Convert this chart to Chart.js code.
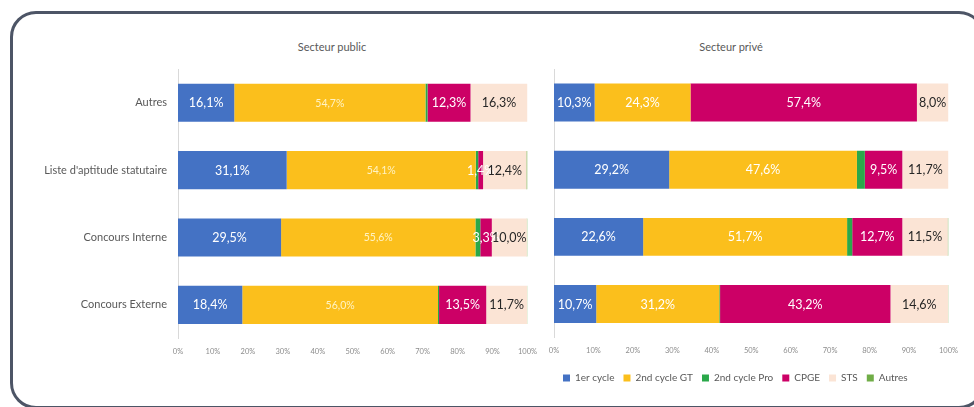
<!DOCTYPE html>
<html lang="fr">
<head>
<meta charset="utf-8">
<title>Secteur public / Secteur privé</title>
<script src="https://cdn.jsdelivr.net/npm/chart.js@4.4.1/dist/chart.umd.min.js"></script>
<style>
  html, body { margin: 0; padding: 0; background: #fff; overflow: hidden; }
  #frame {
    position: absolute; left: 10px; top: 11px; width: 975px; height: 398px;
    box-sizing: border-box; border: 3px solid #4d5566; border-radius: 26px;
  }
  .ttl {
    position: absolute; top: 40px; font: 11px Lato, sans-serif; color: #595959;
    transform: translateX(-50%); white-space: nowrap;
  }
  canvas { position: absolute; top: 0; }
</style>
</head>
<body>
<div id="frame"></div>
<div class="ttl" style="left:332px">Secteur public</div>
<div class="ttl" style="left:731px">Secteur privé</div>
<canvas id="pub" width="545" height="370" style="left:0"></canvas>
<canvas id="priv" width="426" height="393" style="left:540px"></canvas>
<script>
const categories = ['Autres', "Liste d'aptitude statutaire", 'Concours Interne', 'Concours Externe'];
const seriesNames = ['1er cycle', '2nd cycle GT', '2nd cycle Pro', 'CPGE', 'STS', 'Autres'];
const seriesColors = ['#4472c4', '#fbbf1c', '#2aa84a', '#cc0066', '#fbe4d5', '#70ad47'];
const xTicks = [0, 10, 20, 30, 40, 50, 60, 70, 80, 90, 100];

// Secteur public (%)
const pub1er = [16.1, 31.1, 29.5, 18.4];
const pubGT = [54.7, 54.1, 55.6, 56.0];
const pubPro = [0.6, 0.7, 1.4, 0.3];
const pubCPGE = [12.3, 1.4, 3.3, 13.5];
const pubSTS = [16.3, 12.4, 10.0, 11.7];
const pubAutres = [0.0, 0.3, 0.2, 0.1];

// Secteur privé (%)
const priv1er = [10.3, 29.2, 22.6, 10.7];
const privGT = [24.3, 47.6, 51.7, 31.2];
const privPro = [0.0, 2.0, 1.3, 0.2];
const privCPGE = [57.4, 9.5, 12.7, 43.2];
const privSTS = [8.0, 11.7, 11.5, 14.6];
const privAutres = [0.0, 0.0, 0.2, 0.1];

const FONT = 'Lato, sans-serif';

// label style per series index; series not listed get no label
function labelStyles(isPublic) {
  return {
    0: { color: '#ffffff', size: 12.5 },
    1: isPublic ? { color: '#fff3c4', size: 10.5 } : { color: '#ffffff', size: 12.5 },
    3: { color: '#ffffff', size: 12.5 },
    4: { color: '#262626', size: 12.5 }
  };
}

function valueLabels(styles) {
  return {
    id: 'valueLabels',
    afterDatasetsDraw(chart) {
      const ctx = chart.ctx;
      ctx.save();
      ctx.textAlign = 'center';
      ctx.textBaseline = 'middle';
      chart.data.datasets.forEach((ds, i) => {
        const st = styles[i];
        if (!st) return;
        chart.getDatasetMeta(i).data.forEach((bar, j) => {
          const v = ds.data[j];
          if (!v) return;
          ctx.fillStyle = st.color;
          ctx.font = st.size + 'px ' + FONT;
          ctx.fillText(v.toFixed(1).replace('.', ',') + '%', (bar.x + bar.base) / 2, bar.y + 0.5);
        });
      });
      ctx.restore();
    }
  };
}

function buildDatasets(arrays) {
  return arrays.map((data, i) => ({
    label: seriesNames[i],
    data: data,
    backgroundColor: seriesColors[i],
    borderWidth: 0,
    categoryPercentage: 1,
    barPercentage: 0.565
  }));
}

function makeChart(id, arrays, isPublic) {
  return new Chart(document.getElementById(id), {
    type: 'bar',
    data: { labels: categories, datasets: buildDatasets(arrays) },
    plugins: [valueLabels(labelStyles(isPublic))],
    options: {
      indexAxis: 'y',
      responsive: false,
      animation: false,
      layout: {
        padding: isPublic
          ? { left: 0, right: 17, top: 69, bottom: 11.4 }
          : { left: 14, right: 15, top: 69, bottom: 0 }
      },
      scales: {
        x: {
          stacked: true,
          min: 0,
          max: 100,
          afterBuildTicks: s => { s.ticks = xTicks.map(v => ({ value: v })); },
          afterFit: s => { s.height = isPublic ? 20 : 26.4; },
          grid: { display: false, drawTicks: false },
          border: { display: false },
          ticks: {
            padding: 8,
            color: '#8c8c8c',
            font: { family: FONT, size: 7.5 },
            callback: v => v + '%',
            maxRotation: 0,
            autoSkip: false
          }
        },
        y: {
          stacked: true,
          afterFit: s => { s.width = isPublic ? 178 : 0; },
          grid: { display: false, drawTicks: false },
          border: { display: true, color: '#d9d9d9', width: 1 },
          ticks: {
            display: isPublic,
            padding: 11,
            color: '#595959',
            font: { family: FONT, size: 11 }
          }
        }
      },
      plugins: {
        title: { display: false },
        tooltip: { enabled: false },
        legend: {
          display: !isPublic,
          position: 'bottom',
          align: 'start',
          labels: {
            boxWidth: 7,
            boxHeight: 7,
            padding: 9,
            color: '#595959',
            font: { family: FONT, size: 10 }
          }
        }
      }
    }
  });
}

makeChart('pub', [pub1er, pubGT, pubPro, pubCPGE, pubSTS, pubAutres], true);
makeChart('priv', [priv1er, privGT, privPro, privCPGE, privSTS, privAutres], false);
</script>
</body>
</html>
